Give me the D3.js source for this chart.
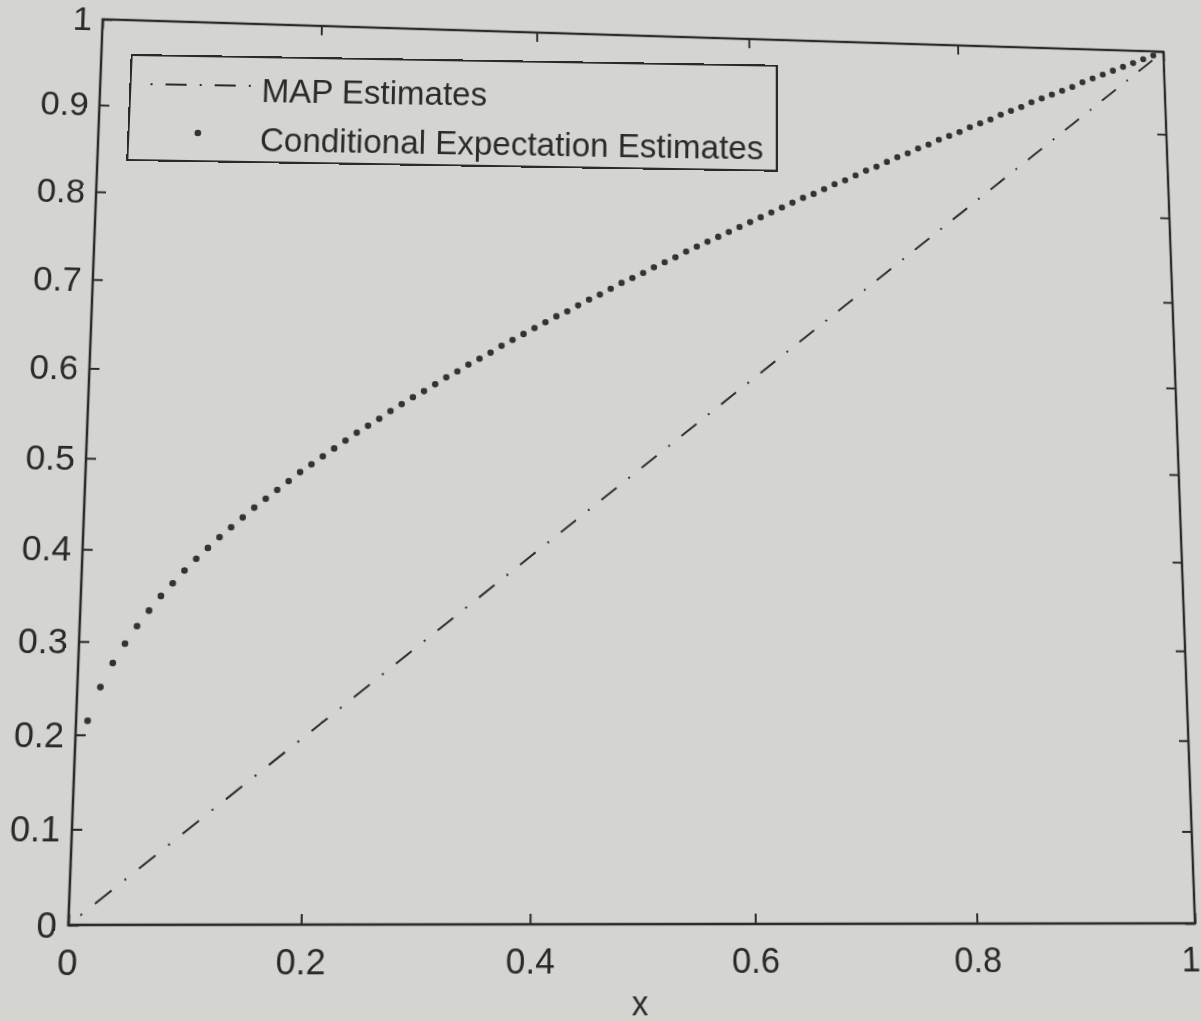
<!DOCTYPE html>
<html>
<head>
<meta charset="utf-8">
<script src="https://cdn.jsdelivr.net/npm/d3@7"></script>
<style>
  html, body { margin: 0; padding: 0; background: #d4d4d1; overflow: hidden; width: 1201px; height: 1021px; position: relative; }
  svg { display: block; position: absolute; left: 0; top: 0; transform-origin: 0 0; overflow: visible; }
  text { font-family: "Liberation Sans", Arial, Helvetica, sans-serif; fill: #2a2a2a; }
</style>
</head>
<body>
<script>
// ---- data ----
const ceX = [0.01,0.02,0.03,0.04,0.05,0.06,0.07,0.08,0.09,0.10,
  0.11,0.12,0.13,0.14,0.15,0.16,0.17,0.18,0.19,0.20,
  0.21,0.22,0.23,0.24,0.25,0.26,0.27,0.28,0.29,0.30,
  0.31,0.32,0.33,0.34,0.35,0.36,0.37,0.38,0.39,0.40,
  0.41,0.42,0.43,0.44,0.45,0.46,0.47,0.48,0.49,0.50,
  0.51,0.52,0.53,0.54,0.55,0.56,0.57,0.58,0.59,0.60,
  0.61,0.62,0.63,0.64,0.65,0.66,0.67,0.68,0.69,0.70,
  0.71,0.72,0.73,0.74,0.75,0.76,0.77,0.78,0.79,0.80,
  0.81,0.82,0.83,0.84,0.85,0.86,0.87,0.88,0.89,0.90,
  0.91,0.92,0.93,0.94,0.95,0.96,0.97,0.98,0.99];
const ceY = [0.215,0.251,0.277,0.298,0.317,0.334,0.350,0.364,0.378,0.391,
  0.403,0.415,0.426,0.437,0.448,0.458,0.468,0.478,0.488,0.497,
  0.506,0.515,0.524,0.533,0.541,0.549,0.558,0.566,0.574,0.581,
  0.589,0.597,0.604,0.612,0.619,0.626,0.634,0.641,0.648,0.655,
  0.662,0.669,0.675,0.682,0.689,0.695,0.702,0.709,0.715,0.721,
  0.728,0.734,0.740,0.747,0.753,0.759,0.765,0.771,0.777,0.783,
  0.789,0.795,0.801,0.807,0.813,0.818,0.824,0.830,0.835,0.841,
  0.847,0.852,0.858,0.864,0.869,0.875,0.880,0.886,0.891,0.896,
  0.902,0.907,0.912,0.918,0.923,0.928,0.934,0.939,0.944,0.949,
  0.954,0.960,0.965,0.970,0.975,0.980,0.985,0.990,0.995];
const mapX = [0.01, 0.99];
const mapY = [0.01, 0.99];
const xTicks = [0, 0.2, 0.4, 0.6, 0.8, 1];
const yTicks = [0, 0.1, 0.2, 0.3, 0.4, 0.5, 0.6, 0.7, 0.8, 0.9, 1];
const legendLabels = ["MAP Estimates", "Conditional Expectation Estimates"];
const xLabel = "x";

// ---- layout ----
const W = 1201, H = 1021;
const L = 68, R = 1195, T = 19, B = 925;
const ink = "#2a2a2a";
const bg = "#d4d4d1";

// photographed page: frame corners as seen in the picture (TL, TR, BR, BL)
const srcQuad = [[L, T], [R, T], [R, B], [L, B]];
const dstQuad = [[102.7, 19.3], [1163.3, 51.7], [1195, 923.3], [68.3, 925]];
const LW = 645, LH = 105;
const legSrc = [[0, 0], [LW, 0], [LW, LH], [0, LH]];
const legDst = [[131.7, 55], [776.7, 65.7], [776.7, 170.7], [127.3, 160]];

function solve(A, b) {
  const n = b.length;
  const M = A.map((r, i) => r.concat([b[i]]));
  for (let c = 0; c < n; c++) {
    let p = c;
    for (let r = c + 1; r < n; r++) if (Math.abs(M[r][c]) > Math.abs(M[p][c])) p = r;
    [M[c], M[p]] = [M[p], M[c]];
    for (let r = 0; r < n; r++) {
      if (r === c) continue;
      const f = M[r][c] / M[c][c];
      for (let k = c; k <= n; k++) M[r][k] -= f * M[c][k];
    }
  }
  return M.map((r, i) => r[n] / r[i]);
}
function homography(src, dst) {
  const A = [], b = [];
  for (let i = 0; i < 4; i++) {
    const [x, y] = src[i], [u, v] = dst[i];
    A.push([x, y, 1, 0, 0, 0, -x * u, -y * u]); b.push(u);
    A.push([0, 0, 0, x, y, 1, -x * v, -y * v]); b.push(v);
  }
  return solve(A, b);
}
const m3d = h => `matrix3d(${h[0]},${h[3]},0,${h[6]},${h[1]},${h[4]},0,${h[7]},0,0,1,0,${h[2]},${h[5]},0,1)`;
const hMain = homography(srcQuad, dstQuad);
const hInv = homography(dstQuad, srcQuad);
const hLeg = homography(legSrc, legDst);
const applyH = (m, p) => {
  const w = m[6] * p[0] + m[7] * p[1] + 1;
  return [(m[0] * p[0] + m[1] * p[1] + m[2]) / w, (m[3] * p[0] + m[4] * p[1] + m[5]) / w];
};

const svg = d3.select("body").append("svg").attr("width", W).attr("height", H)
  .style("transform", m3d(hMain));
svg.append("rect").attr("x", -200).attr("y", -200).attr("width", W + 400).attr("height", H + 400).attr("fill", bg);

const x = d3.scaleLinear().domain([0, 1]).range([L, R]);
const y = d3.scaleLinear().domain([0, 1]).range([B, T]);
const fmt = d => d === 0 ? "0" : d === 1 ? "1" : d3.format(".1f")(d);

// axes (inward ticks, MATLAB box)
const axB = d3.axisBottom(x).tickValues(xTicks).tickSize(-10).tickPadding(22).tickFormat(fmt);
const axL = d3.axisLeft(y).tickValues(yTicks).tickSize(-10).tickPadding(11).tickFormat(fmt);
const axT = d3.axisTop(x).tickValues(xTicks).tickSize(-10).tickFormat("");
const axR = d3.axisRight(y).tickValues(yTicks).tickSize(-10).tickFormat("");

function style(g) {
  g.selectAll("path.domain").remove();
  g.selectAll("line").attr("stroke", ink).attr("stroke-width", 2);
  g.selectAll("text").attr("font-size", 35).attr("fill", ink)
    .attr("font-family", "'Liberation Sans', Arial, sans-serif");
}
const gB = svg.append("g").attr("transform", `translate(0,${B})`).call(axB).call(style);
gB.selectAll(".tick text").filter(d => d === 1).attr("dx", -6);
svg.append("g").attr("transform", `translate(${L},0)`).call(axL).call(style);
svg.append("g").attr("transform", `translate(0,${T})`).call(axT).call(style);
svg.append("g").attr("transform", `translate(${R},0)`).call(axR).call(style);

svg.append("rect").attr("x", L).attr("y", T).attr("width", R - L).attr("height", B - T)
  .attr("fill", "none").attr("stroke", ink).attr("stroke-width", 2.5);

// MAP dash-dot line
const mapData = mapX.map((v, i) => [v, mapY[i]]);
svg.append("path")
  .attr("d", d3.line().x(d => x(d[0])).y(d => y(d[1]))(mapData))
  .attr("fill", "none").attr("stroke", ink).attr("stroke-width", 2)
  .attr("stroke-dasharray", "2,15.5,20,15.5");

// Conditional expectation dots
svg.append("g").selectAll("circle")
  .data(ceX.map((v, i) => [v, ceY[i]]))
  .join("circle")
  .attr("cx", d => x(d[0])).attr("cy", d => y(d[1]))
  .attr("r", 3.3).attr("fill", "#333");

// x label
const xl = applyH(hInv, [640, 1005]);
svg.append("text").attr("x", xl[0]).attr("y", xl[1] + 10)
  .attr("text-anchor", "middle").attr("font-size", 33).attr("fill", ink).text(xLabel);

// legend: its own box, as photographed
const lg = d3.select("body").append("svg").attr("width", LW).attr("height", LH)
  .style("transform", m3d(hLeg));
lg.append("rect").attr("x", 0).attr("y", 0).attr("width", LW).attr("height", LH)
  .attr("fill", bg).attr("stroke", ink).attr("stroke-width", 2);
lg.append("line").attr("x1", 20).attr("x2", 121).attr("y1", 29).attr("y2", 29)
  .attr("stroke", ink).attr("stroke-width", 2).attr("stroke-dasharray", "2,13,21,13");
lg.append("circle").attr("cx", 69).attr("cy", 77).attr("r", 3.3).attr("fill", "#333");
lg.selectAll("text.lab").data(legendLabels).join("text").attr("class", "lab")
  .attr("x", 131).attr("y", (d, i) => 45 + i * 49)
  .attr("font-size", 33).attr("fill", ink).text(d => d);
</script>
</body>
</html>
